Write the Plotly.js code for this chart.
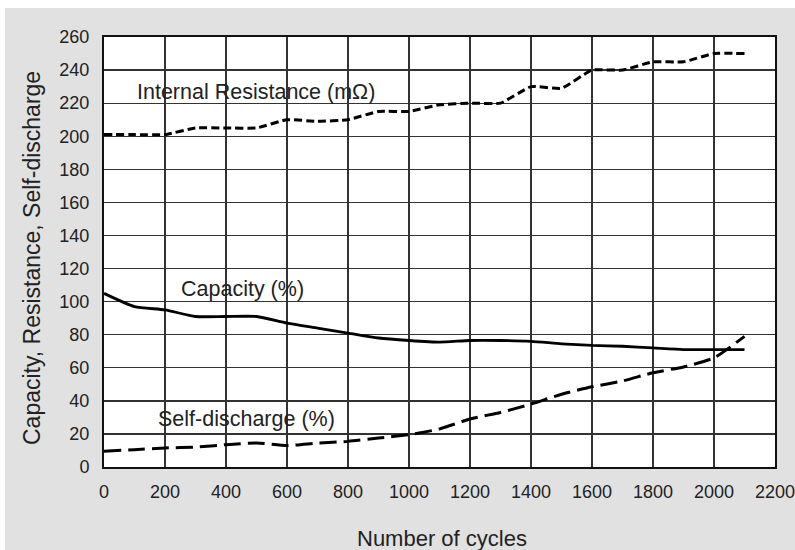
<!DOCTYPE html>
<html>
<head>
<meta charset="utf-8">
<script src="https://cdn.plot.ly/plotly-3.0.1.min.js"></script>
<style>html,body{margin:0;padding:0;background:#fff;}#chart{width:795px;height:550px;}</style>
</head>
<body>
<div id="chart"></div>
<script>
var cycles = [0,100,200,300,400,500,600,700,800,900,1000,1100,1200,1300,1400,1500,1600,1700,1800,1900,2000,2100];
var resistance = [201,201,201,205,205,205,210,209,210,215,215,219,220,220,230,229,240,240,245,245,250,250];
var capacity = [105,97,95,91,91,91,87,84,81,78,76.5,75.5,76.5,76.5,76,74.5,73.5,73,72,71,71,71];
var selfDischarge = [9.5,10.5,11.5,12,13.5,14.5,13,14.5,15.5,17.5,19.5,23,29,33,38,44,48.5,52,57,60.5,66,79];
var xTicks = [0,200,400,600,800,1000,1200,1400,1600,1800,2000,2200];
var yTicks = [0,20,40,60,80,100,120,140,160,180,200,220,240,260];
var seriesLabels = ["Internal Resistance (m\u03A9)", "Capacity (%)", "Self-discharge (%)"];
var xTitle = "Number of cycles";
var yTitle = "Capacity, Resistance, Self-discharge";

var font = "Liberation Sans, Arial, sans-serif";
var traces = [
  {x: cycles, y: resistance, mode: "lines", line: {color: "#000", width: 3, dash: "8px,4px", shape: "spline", smoothing: 0.4}, hoverinfo: "skip"},
  {x: cycles, y: capacity, mode: "lines", line: {color: "#000", width: 2.8, shape: "spline", smoothing: 0.6}, hoverinfo: "skip"},
  {x: cycles, y: selfDischarge, mode: "lines", line: {color: "#000", width: 3, dash: "17px,7px", shape: "spline", smoothing: 0.6}, hoverinfo: "skip"}
];

var W = 795, H = 550, L = 104, R = 20, T = 37, B = 83;
var pw = W - L - R, ph = H - T - B;
function px(p) { return (p - L) / pw; }
function py(p) { return (H - B - p) / ph; }

var layout = {
  width: W, height: H,
  margin: {l: L, r: R, t: T, b: B, pad: 0},
  paper_bgcolor: "#e1e1e1",
  plot_bgcolor: "#ffffff",
  showlegend: false,
  font: {family: font, color: "#222", size: 18},
  xaxis: {
    range: [0, 2200], tickvals: xTicks, ticktext: xTicks.map(String),
    showgrid: true, gridcolor: "#333", gridwidth: 1.3,
    showline: true, linecolor: "#111", linewidth: 2, mirror: true,
    zeroline: false, ticks: "", ticklabelstandoff: 7, ticklabeloverflow: "allow",
    tickfont: {family: font, size: 18, color: "#222"}, fixedrange: true
  },
  yaxis: {
    range: [0, 260], tickvals: yTicks, ticktext: yTicks.map(String),
    showgrid: true, gridcolor: "#333", gridwidth: 1.3,
    showline: true, linecolor: "#111", linewidth: 2, mirror: true,
    zeroline: false, ticks: "", ticklabelstandoff: 9,
    tickfont: {family: font, size: 18, color: "#222"}, fixedrange: true
  },
  shapes: [
    {type: "rect", xref: "paper", yref: "paper", x0: px(0), x1: px(W), y0: py(8), y1: py(0), fillcolor: "#ffffff", line: {width: 0}, layer: "below"},
    {type: "rect", xref: "paper", yref: "paper", x0: px(0), x1: px(5), y0: py(H), y1: py(0), fillcolor: "#ffffff", line: {width: 0}, layer: "below"}
  ],
  annotations: [
    {x: px(135), y: py(92), xref: "paper", yref: "paper", text: seriesLabels[0], showarrow: false, xanchor: "left", yanchor: "middle", font: {family: font, size: 21.5, color: "#222"}},
    {x: px(179), y: py(289), xref: "paper", yref: "paper", text: seriesLabels[1], showarrow: false, xanchor: "left", yanchor: "middle", font: {family: font, size: 21.5, color: "#222"}},
    {x: px(156), y: py(419), xref: "paper", yref: "paper", text: seriesLabels[2], showarrow: false, xanchor: "left", yanchor: "middle", font: {family: font, size: 21.5, color: "#222"}},
    {x: px(442), y: py(538), xref: "paper", yref: "paper", text: xTitle, showarrow: false, xanchor: "center", yanchor: "middle", font: {family: font, size: 22, color: "#222"}},
    {x: px(32), y: py(258), xref: "paper", yref: "paper", text: yTitle, textangle: -90, showarrow: false, xanchor: "center", yanchor: "middle", font: {family: font, size: 23, color: "#222"}}
  ]
};

Plotly.newPlot("chart", traces, layout, {displayModeBar: false, staticPlot: true});
</script>
</body>
</html>
